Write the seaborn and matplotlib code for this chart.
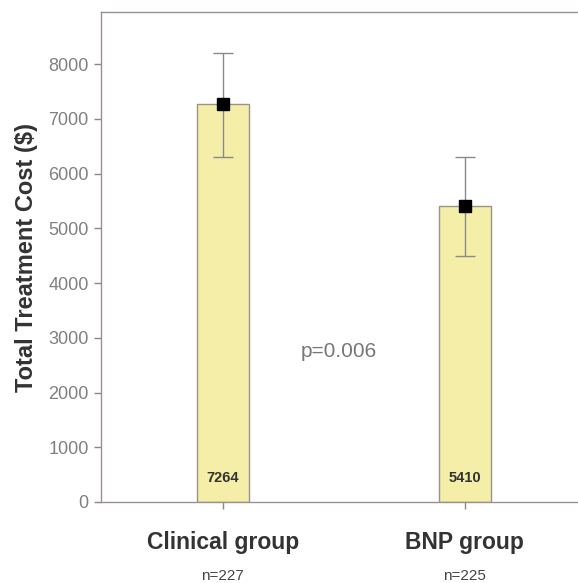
import pandas as pd
import matplotlib.pyplot as plt
import seaborn as sns

# values
groups = ["Clinical group", "BNP group"]
n_labels = ["n=227", "n=225"]
mean_cost = [7264, 5410]
err_low = [6300, 4500]
err_high = [8200, 6300]
p_text = "p=0.006"

df = pd.DataFrame({"group": groups, "cost": mean_cost})

sns.set_style("white")
plt.rcParams['font.family'] = ['Liberation Sans', 'DejaVu Sans']

fig = plt.figure(figsize=(5.78, 5.83), dpi=100)
ax = fig.add_axes([0.175, 0.139, 0.83, 0.84])

sns.barplot(data=df, x="group", y="cost", color="#F4EEA8", edgecolor="#9A9488",
            linewidth=1.0, width=0.215, saturation=1, ax=ax)

# error bars and mean markers
yerr = [[m - lo for m, lo in zip(mean_cost, err_low)],
        [hi - m for m, hi in zip(mean_cost, err_high)]]
ax.errorbar(range(len(groups)), mean_cost, yerr=yerr, fmt="none",
            ecolor="#8A8A8A", elinewidth=1.0, capsize=7.5, capthick=1.0, zorder=3)
ax.plot(range(len(groups)), mean_cost, "s", color="black", markersize=8, zorder=4)

# value labels inside bars
for i, v in enumerate(mean_cost):
    ax.text(i, 430, str(v), ha="center", va="center", fontsize=10.5,
            fontweight="bold", color="#333333")

ax.text(0.48, 2750, p_text, ha="center", va="center", fontsize=15, color="#777777")

ax.set_xlim(-0.502, 1.48)
ax.set_ylim(0, 8950)
ax.set_yticks(range(0, 9000, 1000))
ax.set_xticks(range(len(groups)))
ax.set_xticklabels(groups, fontsize=16.5, fontweight="bold", color="#333333")
ax.set_xlabel("")
ax.set_ylabel("Total Treatment Cost ($)", fontsize=17, fontweight="bold",
              color="#333333", labelpad=7)

for i, n in enumerate(n_labels):
    ax.text(i, -1360, n, ha="center", va="center", fontsize=11, color="#444444")

ax.tick_params(axis="y", direction="out", length=5, width=1, color="#888888",
               labelsize=13, labelcolor="#808080", left=True, pad=4)
ax.tick_params(axis="x", direction="out", length=5, width=1, color="#888888",
               pad=16, bottom=True)

for side in ["left", "bottom", "top"]:
    ax.spines[side].set_color("#9A9090")
    ax.spines[side].set_linewidth(1.0)
ax.spines["right"].set_visible(False)

fig.savefig("out.png", dpi=100)
